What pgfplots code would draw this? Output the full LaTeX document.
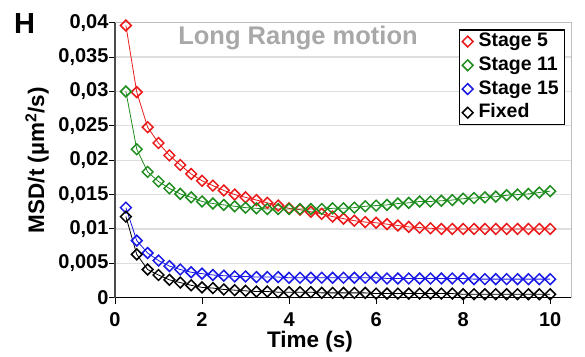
\documentclass[border=0pt]{standalone}
\usepackage{pgfplots}
\pgfplotsset{compat=1.18}
\usepackage{fontspec}
\setmainfont{Liberation Sans}
\definecolor{cred}{RGB}{235,25,25}
\definecolor{cgreen}{RGB}{30,140,30}
\definecolor{cblue}{RGB}{25,25,230}
\definecolor{gridc}{RGB}{222,222,222}
\definecolor{framec}{RGB}{190,190,190}
\definecolor{titlec}{RGB}{168,168,168}
\begin{document}
\begin{tikzpicture}
\useasboundingbox (-115pt,-58.3pt) rectangle (470pt,297.7pt);
\begin{axis}[
 scale only axis, width=456.5pt, height=275pt,
 xmin=0, xmax=10.49, ymin=0, ymax=0.04,
 clip=false,
 axis lines*=left,
 x axis line style={black, line width=1.2pt},
 y axis line style={black!70, line width=1.2pt},
 tick align=outside, major tick length=6pt,
 tick style={black, line width=1pt},
 xtick={0,2,4,6,8,10},
 ytick={0,0.005,0.01,0.015,0.02,0.025,0.03,0.035,0.04},
 yticklabels={0,{0,005},{0,01},{0,015},{0,02},{0,025},{0,03},{0,035},{0,04}},
 scaled y ticks=false,
 ymajorgrids, grid style={gridc, line width=1.2pt},
 ticklabel style={font=\fontsize{20}{24}\selectfont\bfseries},
 xticklabel style={yshift=-5.5pt},
 yticklabel style={xshift=3pt},
 /pgf/number format/assume math mode=true,
 xlabel={Time (s)}, ylabel={MSD/t (µm\textsuperscript{2}/s)},
 label style={font=\fontsize{22.5}{27}\selectfont\bfseries},
 xlabel style={at={(axis description cs:0.427,-0.1810)}, anchor=base},
 ylabel style={at={(axis description cs:-0.1555,0.5)}, anchor=base},
 legend cell align=left,
 legend style={at={(axis description cs:0.9858,0.977)}, anchor=north east,
   draw=black, line width=1.5pt, inner xsep=3pt, inner ysep=0pt,
   font=\fontsize{19.5}{23.7}\selectfont\bfseries,
   nodes={inner xsep=2.5pt, inner ysep=1.85pt, text height=15pt, text depth=5pt},
   /tikz/every odd column/.append style={column sep=3pt}},
 legend image code/.code={\draw[#1, only marks] plot coordinates {(0pt,0pt)};},
 every axis plot/.append style={line width=0.8pt, mark=square, mark size=3.8pt,
   mark options={rotate=45, line width=1.5pt, solid}},
]
\draw[framec, line width=1.2pt] (axis description cs:0,1) -- (axis description cs:1,1) -- (axis description cs:1,0);
\addplot[cred] coordinates {
(0.25,0.0396)(0.5,0.0299)(0.75,0.0248)(1.0,0.0225)(1.25,0.0207)(1.5,0.0193)(1.75,0.0180)(2.0,0.0170)
(2.25,0.0163)(2.5,0.0156)(2.75,0.0150)(3.0,0.0146)(3.25,0.0142)(3.5,0.0138)(3.75,0.0134)(4.0,0.0130)
(4.25,0.0128)(4.5,0.0125)(4.75,0.0122)(5.0,0.0118)(5.25,0.0115)(5.5,0.0112)(5.75,0.0110)(6.0,0.0109)
(6.25,0.0107)(6.5,0.0105)(6.75,0.0103)(7.0,0.0102)(7.25,0.0101)(7.5,0.0100)(7.75,0.0100)(8.0,0.0100)
(8.25,0.0100)(8.5,0.0100)(8.75,0.0100)(9.0,0.0100)(9.25,0.0100)(9.5,0.0100)(9.75,0.0100)(10.0,0.0100)};
\addlegendentry{Stage 5}
\addplot[cgreen] coordinates {
(0.25,0.0300)(0.5,0.0216)(0.75,0.0183)(1.0,0.0169)(1.25,0.0159)(1.5,0.0151)(1.75,0.0146)(2.0,0.0140)
(2.25,0.0137)(2.5,0.0135)(2.75,0.0133)(3.0,0.0131)(3.25,0.0130)(3.5,0.0129)(3.75,0.0129)(4.0,0.0129)
(4.25,0.0129)(4.5,0.0129)(4.75,0.0129)(5.0,0.0130)(5.25,0.0130)(5.5,0.0131)(5.75,0.0133)(6.0,0.0134)
(6.25,0.0135)(6.5,0.0137)(6.75,0.0138)(7.0,0.0140)(7.25,0.0140)(7.5,0.0141)(7.75,0.0142)(8.0,0.0144)
(8.25,0.0145)(8.5,0.0146)(8.75,0.0147)(9.0,0.0149)(9.25,0.0150)(9.5,0.0151)(9.75,0.0153)(10.0,0.0155)};
\addlegendentry{Stage 11}
\addplot[cblue] coordinates {
(0.25,0.0131)(0.5,0.0083)(0.75,0.0065)(1.0,0.0054)(1.25,0.0046)(1.5,0.0041)(1.75,0.0037)(2.0,0.0035)
(2.25,0.0033)(2.5,0.0032)(2.75,0.0031)(3.0,0.0031)(3.25,0.0030)(3.5,0.0030)(3.75,0.0030)(4.0,0.0029)
(4.25,0.0029)(4.5,0.0029)(4.75,0.0029)(5.0,0.0029)(5.25,0.0029)(5.5,0.0029)(5.75,0.0029)(6.0,0.0029)
(6.25,0.0028)(6.5,0.0028)(6.75,0.0028)(7.0,0.0028)(7.25,0.0028)(7.5,0.0028)(7.75,0.0028)(8.0,0.0028)
(8.25,0.0027)(8.5,0.0027)(8.75,0.0027)(9.0,0.0027)(9.25,0.0027)(9.5,0.0027)(9.75,0.0027)(10.0,0.0027)};
\addlegendentry{Stage 15}
\addplot[black] coordinates {
(0.25,0.0118)(0.5,0.0063)(0.75,0.0041)(1.0,0.0033)(1.25,0.0026)(1.5,0.0022)(1.75,0.0018)(2.0,0.0015)
(2.25,0.0014)(2.5,0.0012)(2.75,0.0011)(3.0,0.0010)(3.25,0.0009)(3.5,0.0009)(3.75,0.0008)(4.0,0.0008)
(4.25,0.0008)(4.5,0.0008)(4.75,0.0007)(5.0,0.0007)(5.25,0.0007)(5.5,0.0007)(5.75,0.0007)(6.0,0.0006)
(6.25,0.0006)(6.5,0.0006)(6.75,0.0006)(7.0,0.0006)(7.25,0.0006)(7.5,0.0006)(7.75,0.0006)(8.0,0.0005)
(8.25,0.0005)(8.5,0.0005)(8.75,0.0005)(9.0,0.0005)(9.25,0.0005)(9.5,0.0005)(9.75,0.0005)(10.0,0.0005)};
\addlegendentry{Fixed}
\end{axis}
\node[anchor=base, inner sep=0pt, text=titlec, font=\fontsize{25.5}{30}\selectfont\bfseries] at (183pt,253.4pt) {Long Range motion};
\node[anchor=base west, inner sep=0pt, font=\fontsize{29}{34}\selectfont\bfseries] at (-101pt,264.4pt) {H};
\end{tikzpicture}
\end{document}
